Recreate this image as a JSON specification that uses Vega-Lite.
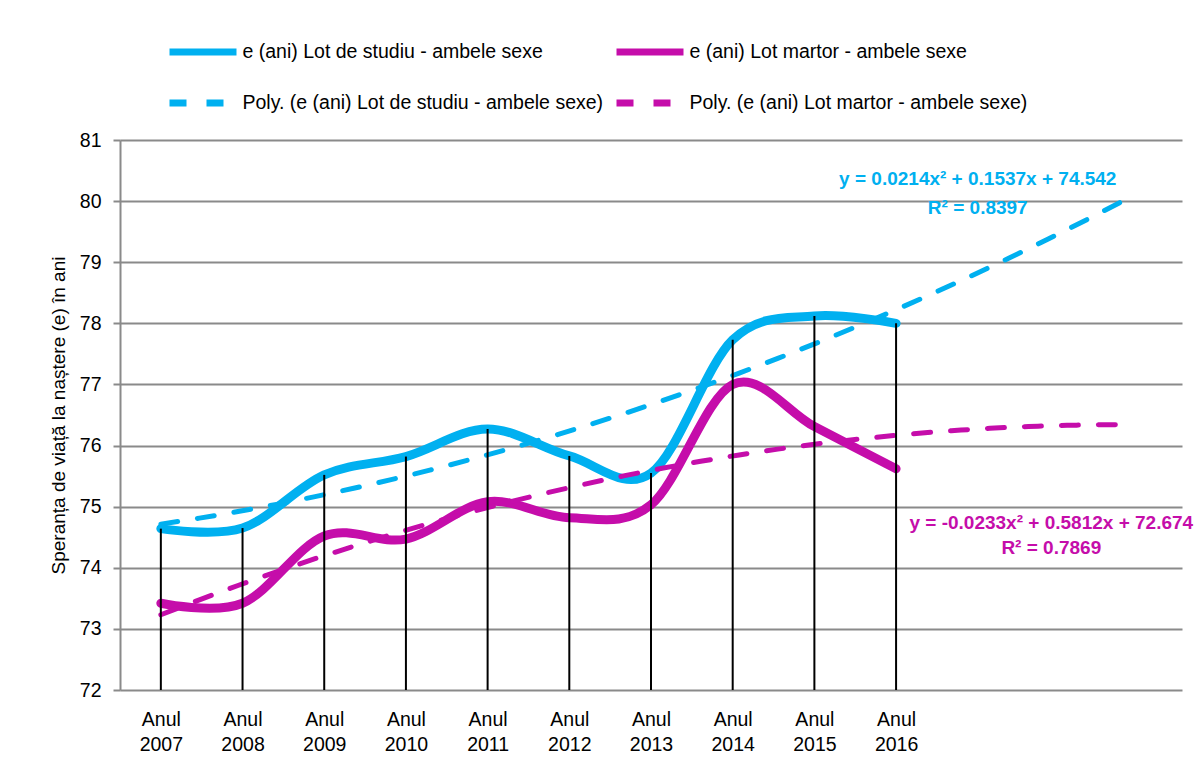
{
  "$schema": "https://vega.github.io/schema/vega-lite/v6.json",
  "width": 1062,
  "height": 550,
  "autosize": "none",
  "padding": {"left": 120, "top": 140, "right": 20, "bottom": 79},
  "background": "white",
  "config": {"view": {"stroke": null}, "font": "Liberation Sans"},
  "datasets": {
    "main": [
      {"x": 2007, "v": 74.64, "s": "e (ani) Lot de studiu - ambele sexe", "p": "Poly. (e (ani) Lot de studiu - ambele sexe)"},
      {"x": 2008, "v": 74.65, "s": "e (ani) Lot de studiu - ambele sexe", "p": "Poly. (e (ani) Lot de studiu - ambele sexe)"},
      {"x": 2009, "v": 75.52, "s": "e (ani) Lot de studiu - ambele sexe", "p": "Poly. (e (ani) Lot de studiu - ambele sexe)"},
      {"x": 2010, "v": 75.82, "s": "e (ani) Lot de studiu - ambele sexe", "p": "Poly. (e (ani) Lot de studiu - ambele sexe)"},
      {"x": 2011, "v": 76.27, "s": "e (ani) Lot de studiu - ambele sexe", "p": "Poly. (e (ani) Lot de studiu - ambele sexe)"},
      {"x": 2012, "v": 75.83, "s": "e (ani) Lot de studiu - ambele sexe", "p": "Poly. (e (ani) Lot de studiu - ambele sexe)"},
      {"x": 2013, "v": 75.55, "s": "e (ani) Lot de studiu - ambele sexe", "p": "Poly. (e (ani) Lot de studiu - ambele sexe)"},
      {"x": 2014, "v": 77.73, "s": "e (ani) Lot de studiu - ambele sexe", "p": "Poly. (e (ani) Lot de studiu - ambele sexe)"},
      {"x": 2015, "v": 78.12, "s": "e (ani) Lot de studiu - ambele sexe", "p": "Poly. (e (ani) Lot de studiu - ambele sexe)"},
      {"x": 2016, "v": 78.0, "s": "e (ani) Lot de studiu - ambele sexe", "p": "Poly. (e (ani) Lot de studiu - ambele sexe)"},
      {"x": 2007, "v": 73.42, "s": "e (ani) Lot martor - ambele sexe", "p": "Poly. (e (ani) Lot martor - ambele sexe)"},
      {"x": 2008, "v": 73.42, "s": "e (ani) Lot martor - ambele sexe", "p": "Poly. (e (ani) Lot martor - ambele sexe)"},
      {"x": 2009, "v": 74.52, "s": "e (ani) Lot martor - ambele sexe", "p": "Poly. (e (ani) Lot martor - ambele sexe)"},
      {"x": 2010, "v": 74.47, "s": "e (ani) Lot martor - ambele sexe", "p": "Poly. (e (ani) Lot martor - ambele sexe)"},
      {"x": 2011, "v": 75.08, "s": "e (ani) Lot martor - ambele sexe", "p": "Poly. (e (ani) Lot martor - ambele sexe)"},
      {"x": 2012, "v": 74.82, "s": "e (ani) Lot martor - ambele sexe", "p": "Poly. (e (ani) Lot martor - ambele sexe)"},
      {"x": 2013, "v": 75.03, "s": "e (ani) Lot martor - ambele sexe", "p": "Poly. (e (ani) Lot martor - ambele sexe)"},
      {"x": 2014, "v": 77.0, "s": "e (ani) Lot martor - ambele sexe", "p": "Poly. (e (ani) Lot martor - ambele sexe)"},
      {"x": 2015, "v": 76.31, "s": "e (ani) Lot martor - ambele sexe", "p": "Poly. (e (ani) Lot martor - ambele sexe)"},
      {"x": 2016, "v": 75.62, "s": "e (ani) Lot martor - ambele sexe", "p": "Poly. (e (ani) Lot martor - ambele sexe)"}
    ],
    "eqStudiu": [
      {"x": 2017.0, "v": 80.36, "t": "y = 0.0214x² + 0.1537x + 74.542"},
      {"x": 2017.0, "v": 79.89, "t": "R² = 0.8397"}
    ],
    "eqMartor": [
      {"x": 2017.9, "v": 74.74, "t": "y = -0.0233x² + 0.5812x + 72.674"},
      {"x": 2017.9, "v": 74.32, "t": "R² = 0.7869"}
    ]
  },
  "layer": [
    {
      "data": {"name": "main"},
      "mark": {"type": "line", "interpolate": "cardinal", "strokeWidth": 9, "strokeCap": "round", "strokeJoin": "round"},
      "encoding": {
        "x": {
          "field": "x", "type": "quantitative",
          "scale": {"domain": [2006.5, 2019.5], "nice": false, "zero": false},
          "axis": {
            "title": null, "values": [2007, 2008, 2009, 2010, 2011, 2012, 2013, 2014, 2015, 2016],
            "labelExpr": "['Anul', '' + datum.value]",
            "grid": false, "ticks": false, "domain": false,
            "labelFont": "Liberation Sans", "labelFontSize": 19.5, "labelColor": "black",
            "labelLineHeight": 25, "labelPadding": 20, "labelFlush": false, "labelOverlap": false
          }
        },
        "y": {
          "field": "v", "type": "quantitative",
          "scale": {"domain": [72, 81], "nice": false, "zero": false},
          "axis": {
            "title": "Speranța de viață la naștere (e) în ani",
            "titleFont": "Liberation Sans", "titleFontSize": 19, "titleFontWeight": "normal", "titleColor": "black",
            "titleX": -62, "titleY": 275, "titleAngle": -90, "titleBaseline": "middle", "titleAlign": "center",
            "values": [72, 73, 74, 75, 76, 77, 78, 79, 80, 81], "format": "d",
            "grid": true, "gridColor": "#8a8a8a", "gridWidth": 2,
            "domainColor": "#8a8a8a", "domainWidth": 2,
            "ticks": true, "tickSize": 7, "tickColor": "#8a8a8a", "tickWidth": 2,
            "labelFont": "Liberation Sans", "labelFontSize": 19.5, "labelColor": "black", "labelPadding": 12
          }
        },
        "color": {
          "field": "s", "type": "nominal",
          "scale": {
            "domain": ["e (ani) Lot de studiu - ambele sexe", "Poly. (e (ani) Lot de studiu - ambele sexe)", "e (ani) Lot martor - ambele sexe", "Poly. (e (ani) Lot martor - ambele sexe)"],
            "range": ["#00B0F0", "#00B0F0", "#C50DAA", "#C50DAA"]
          },
          "legend": {
            "title": null, "orient": "none", "legendX": 46, "legendY": -125, "columns": 2,
            "symbolType": "stroke", "symbolSize": 4489, "columnPadding": -2, "rowPadding": -25,
            "labelFont": "Liberation Sans", "labelFontSize": 19.5, "labelColor": "black", "labelOffset": 2.5, "labelLimit": 700,
            "symbolStrokeWidth": 7
          }
        }
      }
    },
    {
      "data": {"name": "main"},
      "transform": [
        {"regression": "v", "on": "x", "groupby": ["p"], "method": "poly", "order": 2, "extent": [2007, 2018.8]}
      ],
      "mark": {"type": "line", "strokeWidth": 5, "strokeCap": "round"},
      "encoding": {
        "x": {"field": "x", "type": "quantitative"},
        "y": {"field": "v", "type": "quantitative"},
        "color": {"field": "p", "type": "nominal"},
        "strokeDash": {
          "field": "p", "type": "nominal",
          "scale": {
            "domain": ["e (ani) Lot de studiu - ambele sexe", "Poly. (e (ani) Lot de studiu - ambele sexe)", "e (ani) Lot martor - ambele sexe", "Poly. (e (ani) Lot martor - ambele sexe)"],
            "range": [[1, 0], [17, 20], [1, 0], [17, 20]]
          },
          "legend": {
            "title": null, "orient": "none", "legendX": 46, "legendY": -125, "columns": 2,
            "symbolType": "stroke", "symbolSize": 4489, "columnPadding": -2, "rowPadding": -25,
            "labelFont": "Liberation Sans", "labelFontSize": 19.5, "labelColor": "black", "labelOffset": 2.5, "labelLimit": 700,
            "symbolStrokeWidth": 7
          }
        }
      }
    },
    {
      "data": {"name": "main"},
      "transform": [{"filter": {"field": "s", "equal": "e (ani) Lot de studiu - ambele sexe"}}],
      "mark": {"type": "rule", "color": "black", "strokeWidth": 2},
      "encoding": {
        "x": {"field": "x", "type": "quantitative"},
        "y": {"field": "v", "type": "quantitative"},
        "y2": {"datum": 72}
      }
    },
    {
      "data": {"name": "eqStudiu"},
      "mark": {"type": "text", "font": "Liberation Sans", "fontSize": 19, "fontWeight": "bold", "color": "#00B0F0", "align": "center", "baseline": "middle"},
      "encoding": {
        "x": {"field": "x", "type": "quantitative"},
        "y": {"field": "v", "type": "quantitative"},
        "text": {"field": "t"}
      }
    },
    {
      "data": {"name": "eqMartor"},
      "mark": {"type": "text", "font": "Liberation Sans", "fontSize": 19, "fontWeight": "bold", "color": "#C50DAA", "align": "center", "baseline": "middle"},
      "encoding": {
        "x": {"field": "x", "type": "quantitative"},
        "y": {"field": "v", "type": "quantitative"},
        "text": {"field": "t"}
      }
    }
  ]
}
